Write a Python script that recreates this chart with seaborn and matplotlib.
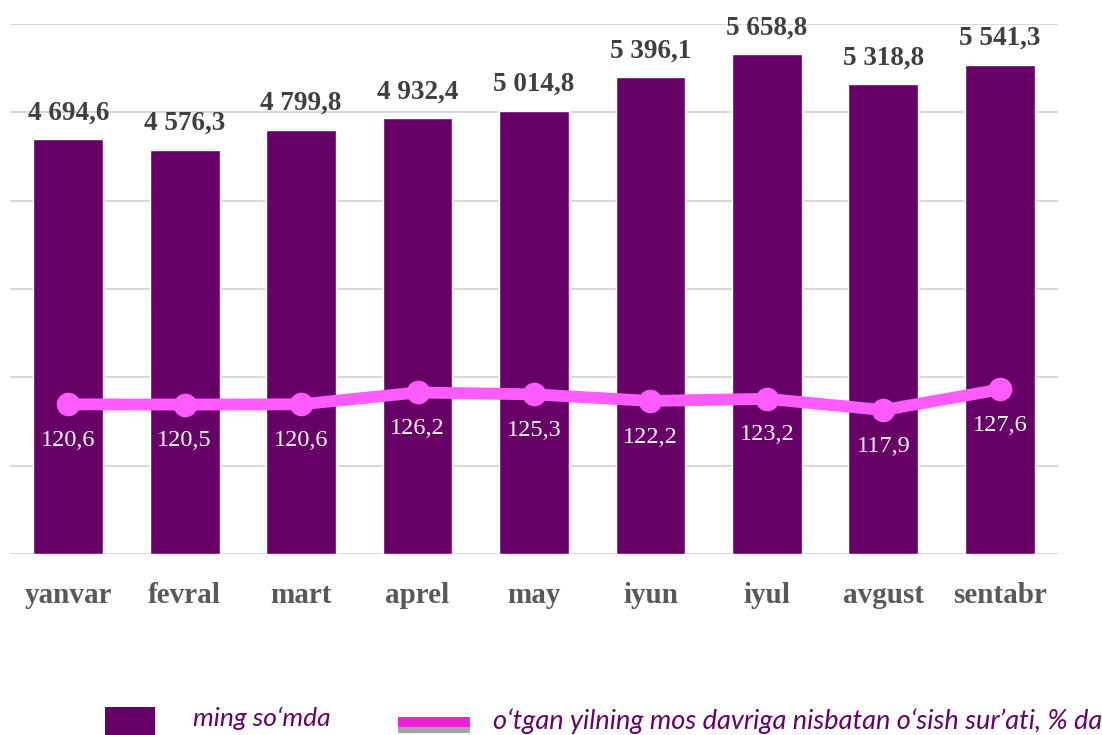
import numpy as np
import pandas as pd
import matplotlib
matplotlib.use("Agg")
import matplotlib.pyplot as plt
import seaborn as sns
from matplotlib.patches import Rectangle

months = ["yanvar", "fevral", "mart", "aprel", "may", "iyun", "iyul", "avgust", "sentabr"]
amount = [4694.6, 4576.3, 4799.8, 4932.4, 5014.8, 5396.1, 5658.8, 5318.8, 5541.3]
growth = [120.6, 120.5, 120.6, 126.2, 125.3, 122.2, 123.2, 117.9, 127.6]
legend_bar = "ming so‘mda"
legend_line = "o‘tgan yilning mos davriga nisbatan o‘sish sur’ati, % da"

BAR = "#660066"
LINE = "#FF5BFF"

sns.set_theme(style="white")
plt.rcParams["font.family"] = ["Liberation Serif", "DejaVu Serif"]

df = pd.DataFrame({"month": months, "amount": amount, "growth": growth, "pos": np.arange(len(months))})

fig = plt.figure(figsize=(11.02, 7.35), dpi=100)
ax = fig.add_axes([10/1102, 1-554/735, (1058-10)/1102, (554-24)/735])

sns.barplot(data=df, x="month", y="amount", color=BAR, width=0.6, saturation=1, ax=ax, zorder=2)
ax.set_ylim(0, 6000)
ax.set_xlim(-0.5, len(months) - 0.5)
ax.set_yticks(np.arange(0, 6001, 1000))
ax.yaxis.grid(True, color="#D9D9D9", linewidth=1.5, zorder=0)
ax.set_axisbelow(True)
ax.set_yticklabels([])
ax.tick_params(axis="y", length=0)
ax.tick_params(axis="x", length=0, pad=20)
ax.set_xlabel("")
ax.set_ylabel("")
for lab in ax.get_xticklabels():
    lab.set_fontsize(21)
    lab.set_fontweight("bold")
    lab.set_color("#595959")
for s in ax.spines.values():
    s.set_visible(False)

for i, v in enumerate(amount):
    txt = f"{v:,.1f}".replace(",", " ").replace(".", ",")
    ax.annotate(txt, (i, v), xytext=(0, 10), textcoords="offset points",
                ha="center", va="bottom", fontsize=19.5, fontweight="bold", color="#404040")

ax2 = ax.twinx()
sns.lineplot(data=df, x="pos", y="growth", color=LINE, linewidth=8.5, marker="o",
             markersize=17, markeredgewidth=0, ax=ax2, zorder=3)
ax2.set_ylim(50, 300)
ax2.set_yticks([])
ax2.set_ylabel("")
ax2.set_xlabel("")
ax2.set_xlim(-0.5, len(months) - 0.5)
for s in ax2.spines.values():
    s.set_visible(False)
for i, v in enumerate(growth):
    txt = f"{v:.1f}".replace(".", ",")
    ax2.annotate(txt, (i, v), xytext=(0, -26), textcoords="offset points",
                 ha="center", va="center", fontsize=17.5, color="white")

# legend
fig.patches.append(Rectangle((105/1102, 1-735/735), 50/1102, 28/735, transform=fig.transFigure,
                             facecolor=BAR, edgecolor="none"))
fig.text(193/1102, 1-718/735, legend_bar, fontsize=19, style="italic", color=BAR,
         family=["Lato", "DejaVu Sans"], va="center", ha="left")
fig.patches.append(Rectangle((398/1102, 1-733/735), 72/1102, 6/735, transform=fig.transFigure,
                             facecolor="#A6A6A6", edgecolor="none"))
fig.patches.append(Rectangle((398/1102, 1-727/735), 72/1102, 10/735, transform=fig.transFigure,
                             facecolor="#EE22DD", edgecolor="none"))
fig.text(493/1102, 1-721/735, legend_line, fontsize=19.5, style="italic", color=BAR,
         family=["Lato", "DejaVu Sans"], va="center", ha="left")

fig.savefig("out.png", dpi=100)
